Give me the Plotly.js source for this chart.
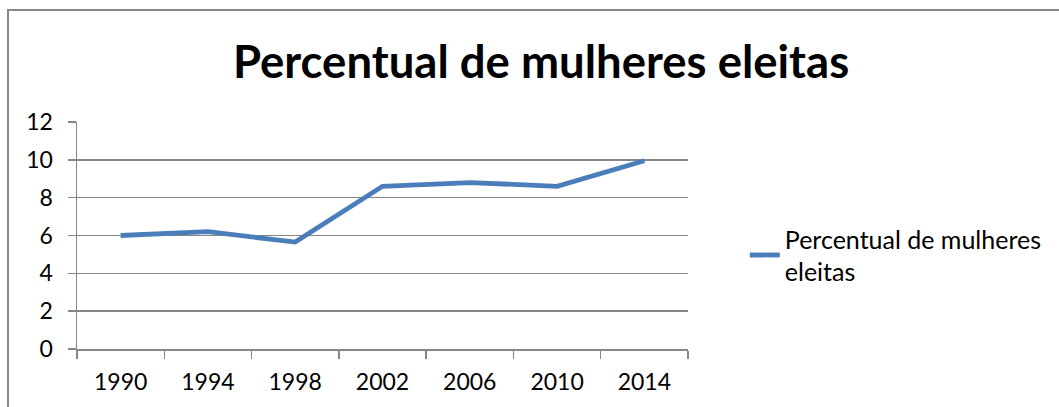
<!DOCTYPE html>
<html>
<head>
<meta charset="utf-8">
<script src="https://cdn.plot.ly/plotly-3.0.1.min.js"></script>
<style>
  html, body { margin: 0; padding: 0; background: #fff; }
  #wrap { position: relative; width: 1059px; height: 407px; overflow: hidden; }
  #chart { position: absolute; left: 0; top: 0; width: 1059px; height: 407px; }
  #frame { position: absolute; left: 7px; top: 9px; width: 1100px; height: 500px;
           border-left: 2px solid #888; border-top: 2px solid #888; pointer-events: none; }
</style>
</head>
<body>
<div id="wrap">
  <div id="chart"></div>
  <div id="frame"></div>
</div>
<script>
const years = ["1990", "1994", "1998", "2002", "2006", "2010", "2014"];
const percentual = [6.0, 6.2, 5.65, 8.6, 8.8, 8.6, 9.95];
const seriesName = "Percentual de mulheres<br>eleitas";
const chartTitle = "Percentual de mulheres eleitas";
const yTicks = [0, 2, 4, 6, 8, 10, 12];

const FONT = "Lato, Open Sans, sans-serif";

const trace = {
  x: years,
  y: percentual,
  type: "scatter",
  mode: "lines",
  name: seriesName,
  line: { color: "#4a7ebb", width: 4.8 }
};

const layout = {
  width: 1059,
  height: 407,
  margin: { l: 77, r: 369, t: 122, b: 58 },
  paper_bgcolor: "#ffffff",
  plot_bgcolor: "#ffffff",
  font: { family: FONT, size: 23, color: "#000" },
  title: {
    text: "<b>" + chartTitle + "</b>",
    font: { family: FONT, size: 45.5, color: "#000" },
    x: 541 / 1059, xanchor: "center", xref: "container",
    y: 1 - 62 / 407, yanchor: "middle", yref: "container"
  },
  xaxis: {
    type: "category",
    range: [-0.5, years.length - 0.5],
    tickson: "boundaries",
    ticks: "outside",
    ticklen: 8,
    tickwidth: 1.5,
    tickcolor: "#868686",
    showline: true,
    linecolor: "#868686",
    linewidth: 1.5,
    showgrid: false,
    zeroline: false,
    ticklabelstandoff: 12,
    tickfont: { family: FONT, size: 23, color: "#000" }
  },
  yaxis: {
    range: [0, 12],
    tickvals: yTicks,
    ticks: "outside",
    ticklen: 8,
    tickwidth: 1.5,
    tickcolor: "#868686",
    showline: true,
    linecolor: "#868686",
    linewidth: 1.5,
    showgrid: true,
    gridcolor: "#868686",
    gridwidth: 1.5,
    zeroline: false,
    ticklabelstandoff: 10,
    tickfont: { family: FONT, size: 23, color: "#000" }
  },
  showlegend: true,
  legend: {
    x: (747 - 77) / 613,
    xanchor: "left",
    y: (349 - 255) / 227,
    yanchor: "middle",
    font: { family: FONT, size: 25, color: "#000" },
    bgcolor: "rgba(0,0,0,0)",
    borderwidth: 0
  }
};

Plotly.newPlot("chart", [trace], layout, { displayModeBar: false, staticPlot: true });
</script>
</body>
</html>
